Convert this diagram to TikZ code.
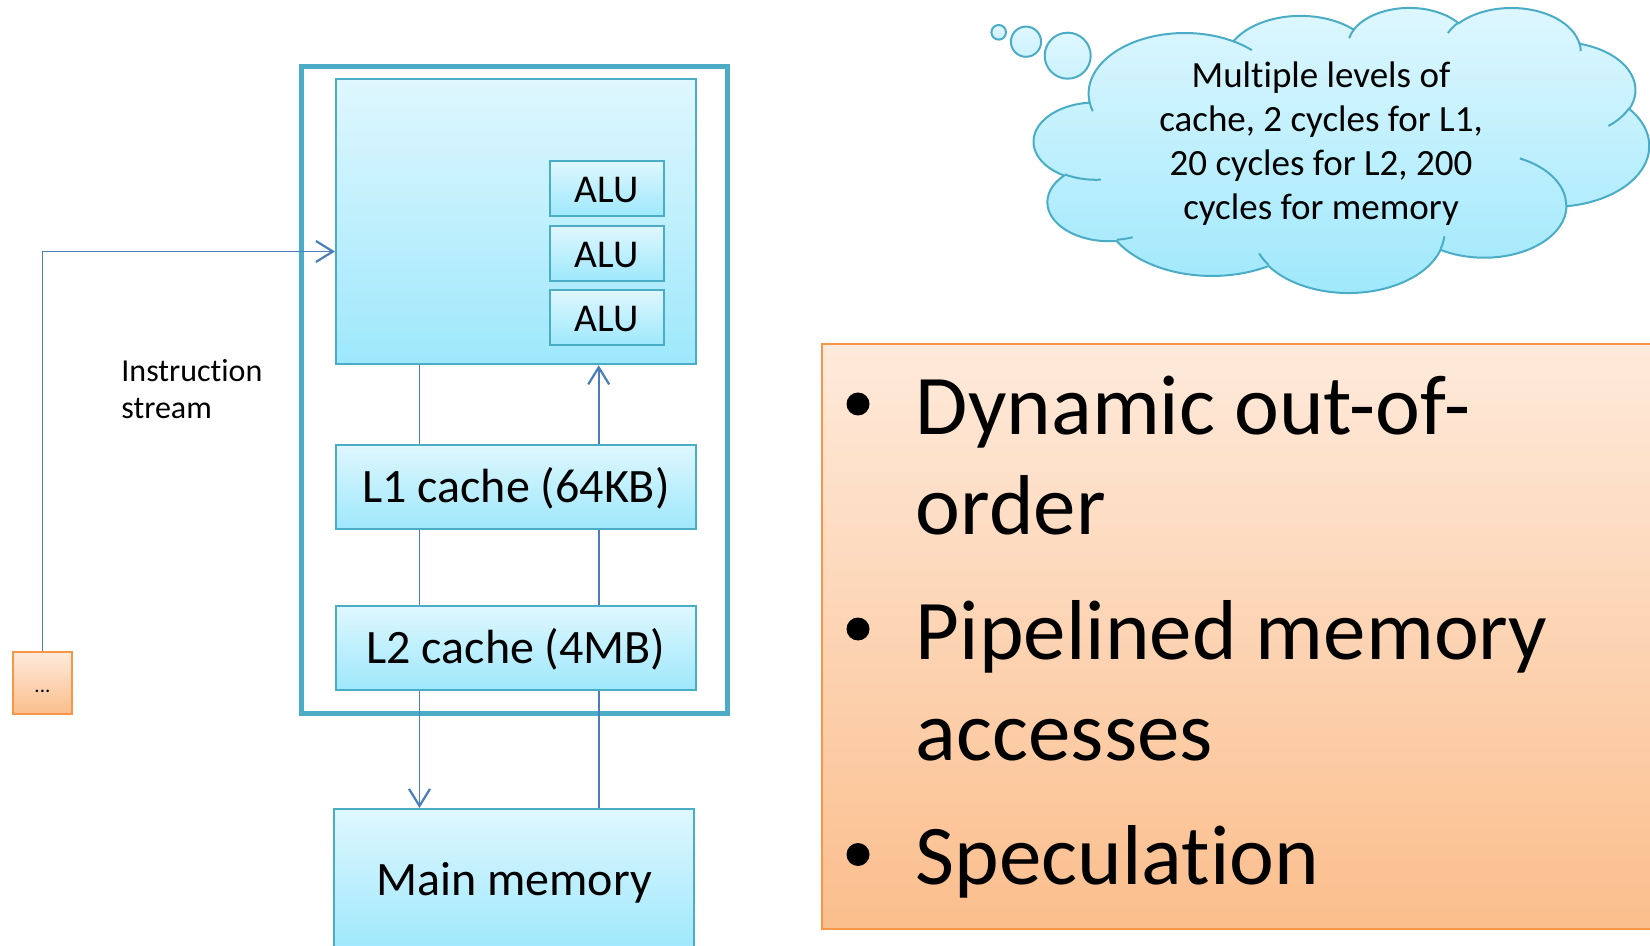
\documentclass[tikz,border=0pt]{standalone}
\usepackage{fontspec}
\setmainfont{Carlito}[Ligatures=NoCommon]
\usetikzlibrary{arrows.meta}
\definecolor{boxline}{RGB}{75,172,198}
\definecolor{conn}{RGB}{74,126,187}
\definecolor{btop}{RGB}{223,247,254}
\definecolor{bbot}{RGB}{158,232,252}
\definecolor{oline}{RGB}{247,150,70}
\definecolor{otop}{RGB}{254,234,219}
\definecolor{obot}{RGB}{251,190,140}
% OOXML arcTo (visual angles) -> parametric angles for TikZ arc
\newcommand\ooarc[4]{%
  \pgfmathsetmacro\ooS{atan2((#1)*sin(#3),(#2)*cos(#3))}%
  \pgfmathsetmacro\ooE{atan2((#1)*sin((#3)+(#4)),(#2)*cos((#3)+(#4)))}%
  \pgfmathsetmacro\ooD{mod(\ooE-\ooS+720,360)}%
  \global\let\ooS\ooS\global\let\ooD\ooD}
\newcommand\oopath[4]{\pgfextra{\ooarc{#1}{#2}{#3}{#4}} arc[start angle=\ooS, delta angle=\ooD, x radius=#1, y radius=#2]}
\begin{document}
\begin{tikzpicture}[x=0.5pt,y=-0.5pt,
  bluebox/.style={draw=boxline, line width=1pt, top color=btop, bottom color=bbot, rectangle, inner sep=0pt},
  bigtext/.style={font=\fontsize{24}{28}\selectfont, text height=15.5pt, text depth=0pt},
  alubox/.style={bluebox, minimum width=56.75pt, minimum height=27.5pt, font=\fontsize{19.7}{23}\selectfont, text height=14pt, text depth=0pt},
  orangebox/.style={draw=oline, line width=1.1pt, top color=otop, bottom color=obot, rectangle, inner sep=0pt},
  conn/.style={draw=conn, line width=0.85pt},
  barb/.style={-{Straight Barb[length=8.5pt, width=10.5pt, line width=1.1pt]}},
  bubble/.style={circle, draw=boxline, line width=1pt, top color=btop, bottom color=btop!70!bbot, inner sep=0pt},
  bul/.style={circle, fill=black, minimum size=11.5pt, inner sep=0pt},
  item/.style={anchor=base west, align=left, inner sep=0pt, font=\fontsize{42.5}{50.5}\selectfont}
]
\useasboundingbox (0,0) rectangle (1650,946);

% outer processor box
\node[draw=boxline, line width=2.5pt, fill=white, rectangle, minimum width=212.75pt, minimum height=323.7pt, inner sep=0pt] (outer) at (514.25,390) {};

% core with ALUs
\node[bluebox, minimum width=180pt, minimum height=142.65pt] (core) at (516,221.65) {};
\node[alubox] (alu1) at (606.75,188.5) {ALU};
\node[alubox] (alu2) at (606.75,253.5) {ALU};
\node[alubox] (alu3) at (606.75,317.5) {ALU};

% caches and memory
\node[bluebox, bigtext, minimum width=180pt, minimum height=42pt] (l1) at (516,487) {L1 cache (64KB)};
\node[bluebox, bigtext, minimum width=180pt, minimum height=42.15pt] (l2) at (516,647.85) {L2 cache (4MB)};
\node[bluebox, bigtext, minimum width=180pt, minimum height=71pt] (mem) at (514,880) {Main memory};

% connectors
\coordinate (lx) at (419.5,0);
\coordinate (rx) at (598.7,0);
\draw[conn] (core.south -| lx) -- (l1.north -| lx);
\draw[conn] (l1.south -| lx) -- (l2.north -| lx);
\draw[conn, barb] (l2.south -| lx) -- (mem.north -| lx);
\draw[conn] (mem.north -| rx) -- (l2.south -| rx);
\draw[conn] (l2.north -| rx) -- (l1.south -| rx);
\draw[conn, barb] (l1.north -| rx) -- (core.south -| rx);

% instruction stream
\node[orangebox, minimum width=29.75pt, minimum height=31.15pt, font=\fontsize{10.5}{12}\selectfont, text height=9.5pt, text depth=0pt] (dots) at (42.45,682.85) {...};
\coordinate (instrY) at (0,251.5);
\draw[conn, barb] (dots.north) |- (core.west |- instrY);
\node[anchor=base west, align=left, inner sep=0pt, font=\fontsize{16}{18.75}\selectfont] (instr) at (121,419) {Instruction\\stream};

% thought cloud
\node[bubble, minimum size=7.3pt] (bub1) at (998.7,32.3) {};
\node[bubble, minimum size=15.1pt] (bub2) at (1026,41.7) {};
\node[bubble, minimum size=23pt] (bub3) at (1067.7,55.7) {};
\begin{scope}[shift={(1034,7)}, xscale=1.4236, yscale=0.6597]
  \path[draw=boxline, line width=1pt, top color=btop, bottom color=bbot]
    (39.00,143.70)
    \oopath{67.53}{91.90}{-190.48748}{123.78053}
    \oopath{53.33}{72.67}{-144.10238}{89.94523}
    \oopath{43.65}{59.45}{-145.80792}{99.72302}
    \oopath{48.57}{65.95}{-130.98607}{117.24173}
    \oopath{53.33}{72.73}{-78.70888}{109.02692}
    \oopath{67.75}{92.20}{-46.26725}{130.269}
    \oopath{57.85}{78.67}{0.62502}{114.03333}
    \oopath{67.52}{92.15}{22.4516}{115.17255}
    \oopath{77.20}{105.43}{66.24263}{75.71102}
    \oopath{43.60}{59.18}{-274.94208}{146.73557}
    \oopath{43.45}{59.45}{-246.8285}{152.51885}
    -- cycle;
  \path[draw=boxline, line width=1pt]
    (46.93,261.77) \oopath{43.45}{59.45}{86.742}{26.4295}
    (69.28,348.99) \oopath{43.60}{59.18}{73.61047}{11.44747}
    (164.78,390.90) \oopath{67.52}{92.15}{137.62415}{14.0811}
    (288.27,347.51) \oopath{67.52}{92.15}{6.45327}{15.99835}
    (341.29,229.54) \oopath{57.85}{78.67}{-70.29235}{70.91737}
    (417.98,153.54) \oopath{53.33}{72.73}{30.31803}{27.7515}
    (383.24,54.26) \oopath{48.57}{65.95}{-13.74433}{14.8589}
    (290.78,39.52) \oopath{48.57}{65.95}{-149.18145}{18.19537}
    (221.41,47.20) \oopath{43.65}{59.45}{-163.49427}{17.68635}
    (140.00,51.92) \oopath{67.53}{91.90}{-66.70695}{12.31935}
    (41.27,157.89) \oopath{67.53}{91.90}{157.65435}{11.85817};
\end{scope}
\node[anchor=base, align=center, inner sep=0pt, font=\fontsize{18.5}{22}\selectfont] (cloudtext) at (1321,220) {Multiple levels of\\cache, 2 cycles for L1,\\20 cycles for L2, 200\\cycles for memory};

% feature list
\node[orangebox, minimum width=429pt, minimum height=292.5pt] (list) at (1251,636.5) {};
\node[bul] (b1) at (858,404) {};
\node[bul] (b2) at (858,629) {};
\node[bul] (b3) at (858,854.5) {};
\node[item] (t1) at (915.5,535) {Dynamic out-of-\\order};
\node[item] (t2) at (915.5,760) {Pipelined memory\\accesses};
\node[item] (t3) at (915.5,884) {Speculation};
\end{tikzpicture}
\end{document}
